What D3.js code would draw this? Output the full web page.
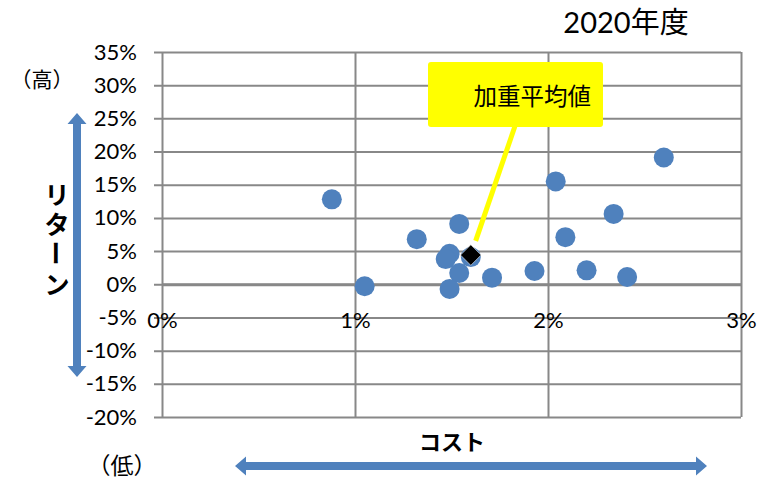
<!DOCTYPE html>
<html>
<head>
<meta charset="utf-8">
<script src="https://cdn.jsdelivr.net/npm/d3@7"></script>
<style>
  html, body { margin: 0; padding: 0; background: #fff; }
  svg { display: block; }
  text { font-family: Lato, "Noto Sans CJK JP", sans-serif; fill: #000; }
</style>
</head>
<body>
<svg id="chart" width="764" height="480"></svg>
<script>
// Cost (%) and return (%) of each fund, fiscal 2020
const cost = [0.88, 1.05, 1.32, 1.54, 1.49, 1.47, 1.54, 1.49, 1.71, 1.93, 2.20, 2.41, 2.09, 2.34, 2.04, 2.60, 1.60];
const ret  = [12.8, -0.3, 6.8, 9.1, 4.6, 3.8, 1.7, -0.7, 1.0, 2.0, 2.1, 1.1, 7.1, 10.6, 15.5, 19.1, 4.1];

// Weighted average of the whole set
const avgCost = 1.60;
const avgReturn = 4.4;

const xTicks = [0, 1, 2, 3];
const yTicks = [-20, -15, -10, -5, 0, 5, 10, 15, 20, 25, 30, 35];

const title = "2020年度";
const avgLabel = "加重平均値";
const yTitle = ["リ", "タ", "ー", "ン"];
const xTitle = "コスト";

const blue = "#4F81BD";
const gridColor = "#888888";

const svg = d3.select("#chart");
const plot = { left: 162, right: 741, top: 52, bottom: 417 };

const x = d3.scaleLinear().domain([0, 3]).range([plot.left, plot.right]);
const y = d3.scaleLinear().domain([-20, 35]).range([plot.bottom, plot.top]);
const pct = d => d + "%";

// Horizontal gridlines with left tick stubs and return labels
const yAxis = svg.append("g")
  .attr("transform", `translate(${plot.left - 8},0)`)
  .call(d3.axisLeft(y).tickValues(yTicks).tickFormat(pct)
    .tickSizeInner(-(plot.right - plot.left + 8)).tickSizeOuter(0).tickPadding(17));
yAxis.select(".domain").remove();
yAxis.selectAll(".tick line").attr("stroke", gridColor).attr("stroke-width", 2);
yAxis.selectAll(".tick text").style("font-size", "22px").style("font-family", "Lato, sans-serif");

// Vertical gridlines
const xGrid = svg.append("g")
  .attr("transform", `translate(0,${plot.bottom})`)
  .call(d3.axisBottom(x).tickValues(xTicks).tickFormat("")
    .tickSizeInner(-(plot.bottom - plot.top)).tickSizeOuter(0));
xGrid.select(".domain").remove();
xGrid.selectAll(".tick line").attr("stroke", gridColor).attr("stroke-width", 2);

// Zero line (horizontal axis) drawn heavier, with cost labels beneath it
const xAxis = svg.append("g")
  .attr("transform", `translate(0,${y(0)})`)
  .call(d3.axisBottom(x).tickValues(xTicks).tickFormat(pct).tickSize(0).tickPadding(28));
xAxis.select(".domain").attr("stroke", gridColor).attr("stroke-width", 3);
xAxis.selectAll(".tick text").style("font-size", "22px").style("font-family", "Lato, sans-serif");

// Fund markers
svg.append("g")
  .selectAll("circle")
  .data(cost.map((c, i) => ({ c, r: ret[i] })))
  .join("circle")
  .attr("cx", d => x(d.c))
  .attr("cy", d => y(d.r))
  .attr("r", 10)
  .attr("fill", blue);

// Callout for the weighted average
const box = { x: 428, y: 62, w: 175, h: 65 };
const ax = x(avgCost), ay = y(avgReturn);
const start = [515, box.y + box.h - 1];
const dx = ax - start[0], dy = ay - start[1];
const len = Math.hypot(dx, dy);
const stop = [ax - dx / len * 15, ay - dy / len * 15];
svg.append("line")
  .attr("x1", start[0]).attr("y1", start[1])
  .attr("x2", stop[0]).attr("y2", stop[1])
  .attr("stroke", "#FFFF00").attr("stroke-width", 5);
svg.append("rect")
  .attr("x", box.x).attr("y", box.y)
  .attr("width", box.w).attr("height", box.h)
  .attr("rx", 3)
  .attr("fill", "#FFFF00");
svg.append("text")
  .attr("x", box.x + box.w - 12).attr("y", box.y + box.h / 2)
  .attr("text-anchor", "end").attr("dominant-baseline", "central")
  .style("font-size", "23.5px")
  .style("font-family", "'Noto Sans CJK JP', sans-serif")
  .text(avgLabel);

// Weighted-average diamond
svg.append("path")
  .attr("d", d3.symbol(d3.symbolSquare, 210)())
  .attr("transform", `translate(${ax},${ay}) rotate(45)`)
  .attr("fill", "#000")
  .attr("stroke", "#fff").attr("stroke-width", 0.5);

// Title
svg.append("text")
  .attr("x", 626).attr("y", 33)
  .attr("text-anchor", "middle")
  .style("font-size", "29px")
  .text(title);

// Return direction: high / low labels and double arrow
svg.append("text")
  .attr("x", 42).attr("y", 78)
  .attr("text-anchor", "middle").attr("dominant-baseline", "central")
  .style("font-size", "21px")
  .style("font-family", "'Noto Sans CJK JP', sans-serif")
  .text("（高）");
svg.append("text")
  .attr("x", 122).attr("y", 464)
  .attr("text-anchor", "middle").attr("dominant-baseline", "central")
  .style("font-size", "23px")
  .style("font-family", "'Noto Sans CJK JP', sans-serif")
  .text("（低）");

function doubleArrow(x1, y1, x2, y2) {
  const shaft = 8, headW = 19, headL = 11;
  const a = Math.atan2(y2 - y1, x2 - x1);
  const L = Math.hypot(x2 - x1, y2 - y1);
  const h = shaft / 2, H = headW / 2;
  const pts = [
    [0, 0], [headL, -H], [headL, -h], [L - headL, -h], [L - headL, -H],
    [L, 0], [L - headL, H], [L - headL, h], [headL, h], [headL, H]
  ];
  svg.append("path")
    .attr("d", d3.line()(pts) + "Z")
    .attr("transform", `translate(${x1},${y1}) rotate(${a * 180 / Math.PI})`)
    .attr("fill", blue);
}
doubleArrow(77, 113, 77, 377);
doubleArrow(235, 466, 707, 466);

// Vertical axis title, one character per row
const yt = svg.append("g");
yTitle.forEach((ch, i) => {
  const cy = 193 + i * 30;
  yt.append("text")
    .attr("x", 0).attr("y", 0)
    .attr("transform", ch === "ー" ? `translate(57,${cy}) rotate(90)` : `translate(57,${cy})`)
    .attr("text-anchor", "middle").attr("dominant-baseline", "central")
    .style("font-size", "25px").style("font-weight", "bold")
    .style("font-family", "'Noto Sans CJK JP', sans-serif")
    .text(ch);
});

// Horizontal axis title
svg.append("text")
  .attr("x", 452).attr("y", 440)
  .attr("text-anchor", "middle").attr("dominant-baseline", "central")
  .style("font-size", "22px").style("font-weight", "bold")
  .style("font-family", "'Noto Sans CJK JP', sans-serif")
  .text(xTitle);
</script>
</body>
</html>
